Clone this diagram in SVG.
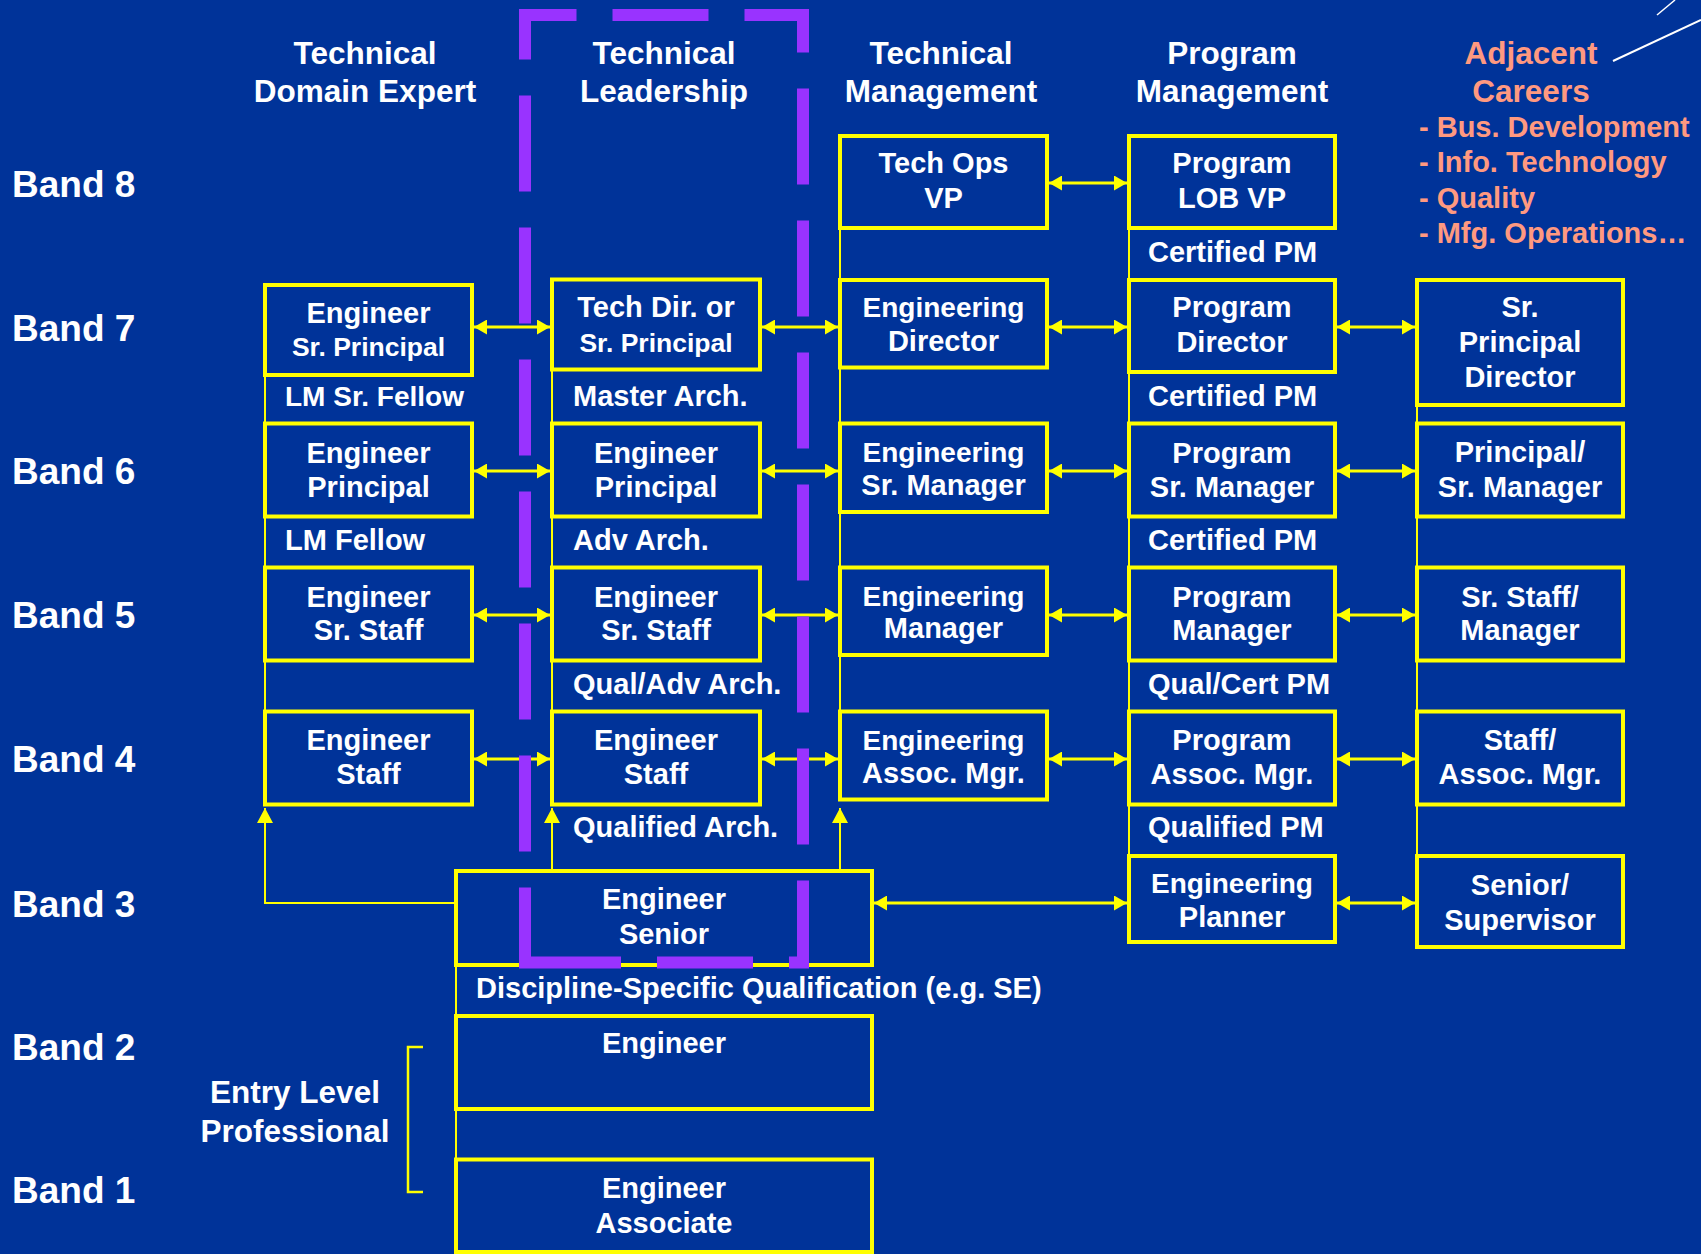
<svg xmlns="http://www.w3.org/2000/svg" width="1701" height="1254" viewBox="0 0 1701 1254">
<style>
  .t { font-family: "Liberation Sans", Arial, sans-serif; font-weight: bold; fill: #FFFFFF; }
  .c { text-anchor: middle; }
  .hdr { font-size: 31.5px; }
  .band { font-size: 37px; }
  .bx { font-size: 29px; }
  .bxs { font-size: 28px; }
  .bxn { font-size: 26.5px; }
  .lbl { font-size: 29px; }
  .adj { fill: #FF9980; }
  .box { fill: #003399; stroke: #FFFF00; stroke-width: 4; }
  .thin { fill: none; stroke: #FFFF00; stroke-width: 2; }
  .dbl { fill: none; stroke: #FFFF00; stroke-width: 3; marker-start: url(#ah); marker-end: url(#ah); }
  .up { fill: none; stroke: #FFFF00; stroke-width: 2; marker-end: url(#ahUp); }
</style>
<defs>
  <marker id="ah" markerUnits="userSpaceOnUse" markerWidth="14" markerHeight="15" refX="13" refY="7.5" orient="auto-start-reverse">
    <path d="M0,0 L13,7.5 L0,15 Z" fill="#FFFF00"/>
  </marker>
  <marker id="ahUp" markerUnits="userSpaceOnUse" markerWidth="16" markerHeight="16" refX="15" refY="8" orient="auto">
    <path d="M0,0 L15,8 L0,16 Z" fill="#FFFF00"/>
  </marker>
</defs>

<!-- background -->
<rect x="0" y="0" width="1701" height="1254" fill="#003399"/>

<!-- decorative strokes, top right -->
<g id="corner-strokes" stroke="#FFFFFF" fill="none">
  <line x1="1613" y1="61" x2="1701" y2="20" stroke-width="2"/>
  <line x1="1657" y1="15" x2="1675" y2="0" stroke-width="1.5"/>
</g>

<!-- column headers -->
<g id="headers" class="t hdr c">
  <text x="365" y="64">Technical</text>
  <text x="365" y="102">Domain Expert</text>
  <text x="664" y="64">Technical</text>
  <text x="664" y="102">Leadership</text>
  <text x="941" y="64">Technical</text>
  <text x="941" y="102">Management</text>
  <text x="1232" y="64">Program</text>
  <text x="1232" y="102">Management</text>
  <text x="1531" y="64" class="adj">Adjacent</text>
  <text x="1531" y="102" class="adj">Careers</text>
</g>
<g id="adjacent-list" class="t lbl adj">
  <text x="1419" y="137">- Bus. Development</text>
  <text x="1419" y="172">- Info. Technology</text>
  <text x="1419" y="208">- Quality</text>
  <text x="1419" y="243">- Mfg. Operations…</text>
</g>

<!-- band labels -->
<g id="bands" class="t band">
  <text x="12" y="197">Band 8</text>
  <text x="12" y="341">Band 7</text>
  <text x="12" y="484">Band 6</text>
  <text x="12" y="628">Band 5</text>
  <text x="12" y="772">Band 4</text>
  <text x="12" y="917">Band 3</text>
  <text x="12" y="1060">Band 2</text>
  <text x="12" y="1203">Band 1</text>
</g>

<g id="entry-level" class="t c" font-size="31.5">
  <text x="295" y="1103">Entry Level</text>
  <text x="295" y="1142">Professional</text>
  <path d="M423,1047 H408 V1192 H423" fill="none" stroke="#FFFF00" stroke-width="2.5"/>
</g>

<!-- qualification labels between bands -->
<g id="qualifications" class="t lbl">
  <text x="285" y="406" font-size="28">LM Sr. Fellow</text>
  <text x="573" y="406">Master Arch.</text>
  <text x="1148" y="262">Certified PM</text>
  <text x="1148" y="406">Certified PM</text>
  <text x="285" y="550">LM Fellow</text>
  <text x="573" y="550">Adv Arch.</text>
  <text x="1148" y="550">Certified PM</text>
  <text x="573" y="694">Qual/Adv Arch.</text>
  <text x="1148" y="694">Qual/Cert PM</text>
  <text x="573" y="837">Qualified Arch.</text>
  <text x="1148" y="837">Qualified PM</text>
  <text x="476" y="998">Discipline-Specific Qualification (e.g. SE)</text>
</g>

<!-- connectors -->
<g id="connectors">
  <path class="thin" d="M265,375 V423.5 M265,516.5 V567.5 M265,660.5 V711.5"/>
  <path class="thin" d="M552,369.5 V423.5 M552,516.5 V567.5 M552,660.5 V711.5"/>
  <path class="thin" d="M840,228 V280 M840,367.5 V423.5 M840,512 V567.5 M840,655 V711.5"/>
  <path class="thin" d="M1129,228 V280 M1129,372 V423.5 M1129,516.5 V567.5 M1129,660.5 V711.5 M1129,804.5 V856"/>
  <path class="thin" d="M1417,405 V423.5 M1417,516.5 V567.5 M1417,660.5 V711.5 M1417,804.5 V856"/>
  <path class="thin" d="M456,965 V1016 M456,1109 V1159.5"/>

  <polyline class="up" points="456,903 265,903 265,808"/>
  <line class="up" x1="552" y1="871" x2="552" y2="808"/>
  <line class="up" x1="840" y1="871" x2="840" y2="808"/>

  <line class="dbl" x1="1049" y1="183" x2="1127" y2="183"/>

  <line class="dbl" x1="474" y1="327" x2="550" y2="327"/>
  <line class="dbl" x1="762" y1="327" x2="838" y2="327"/>
  <line class="dbl" x1="1049" y1="327" x2="1127" y2="327"/>
  <line class="dbl" x1="1337" y1="327" x2="1415" y2="327"/>

  <line class="dbl" x1="474" y1="471" x2="550" y2="471"/>
  <line class="dbl" x1="762" y1="471" x2="838" y2="471"/>
  <line class="dbl" x1="1049" y1="471" x2="1127" y2="471"/>
  <line class="dbl" x1="1337" y1="471" x2="1415" y2="471"/>

  <line class="dbl" x1="474" y1="615" x2="550" y2="615"/>
  <line class="dbl" x1="762" y1="615" x2="838" y2="615"/>
  <line class="dbl" x1="1049" y1="615" x2="1127" y2="615"/>
  <line class="dbl" x1="1337" y1="615" x2="1415" y2="615"/>

  <line class="dbl" x1="474" y1="759" x2="550" y2="759"/>
  <line class="dbl" x1="762" y1="759" x2="838" y2="759"/>
  <line class="dbl" x1="1049" y1="759" x2="1127" y2="759"/>
  <line class="dbl" x1="1337" y1="759" x2="1415" y2="759"/>

  <line class="dbl" x1="874" y1="903" x2="1127" y2="903"/>
  <line class="dbl" x1="1337" y1="903" x2="1415" y2="903"/>
</g>

<!-- Band 8 -->
<g id="tech-ops-vp">
  <rect class="box" x="840" y="136" width="207" height="92"/>
  <text class="t bx c" x="943.5" y="173">Tech Ops</text>
  <text class="t bx c" x="943.5" y="208">VP</text>
</g>
<g id="program-lob-vp">
  <rect class="box" x="1129" y="136" width="206" height="92"/>
  <text class="t bx c" x="1232" y="173">Program</text>
  <text class="t bx c" x="1232" y="208">LOB VP</text>
</g>

<!-- Band 7 -->
<g id="engineer-sr-principal">
  <rect class="box" x="265" y="285" width="207" height="90"/>
  <text class="t bx c" x="368.5" y="323">Engineer</text>
  <text class="t bxn c" x="368.5" y="356">Sr. Principal</text>
</g>
<g id="tech-dir-sr-principal">
  <rect class="box" x="552" y="279.5" width="208" height="90"/>
  <text class="t bx c" x="656" y="317">Tech Dir. or</text>
  <text class="t bxn c" x="656" y="352">Sr. Principal</text>
</g>
<g id="engineering-director">
  <rect class="box" x="840" y="280" width="207" height="87.5"/>
  <text class="t bxs c" x="943.5" y="317">Engineering</text>
  <text class="t bx c" x="943.5" y="351">Director</text>
</g>
<g id="program-director">
  <rect class="box" x="1129" y="280" width="206" height="92"/>
  <text class="t bx c" x="1232" y="317">Program</text>
  <text class="t bx c" x="1232" y="352">Director</text>
</g>
<g id="sr-principal-director">
  <rect class="box" x="1417" y="280" width="206" height="125"/>
  <text class="t bx c" x="1520" y="317">Sr.</text>
  <text class="t bx c" x="1520" y="352">Principal</text>
  <text class="t bx c" x="1520" y="387">Director</text>
</g>

<!-- Band 6 -->
<g id="engineer-principal-tde">
  <rect class="box" x="265" y="423.5" width="207" height="93"/>
  <text class="t bx c" x="368.5" y="463">Engineer</text>
  <text class="t bx c" x="368.5" y="497">Principal</text>
</g>
<g id="engineer-principal-tl">
  <rect class="box" x="552" y="423.5" width="208" height="93"/>
  <text class="t bx c" x="656" y="463">Engineer</text>
  <text class="t bx c" x="656" y="497">Principal</text>
</g>
<g id="engineering-sr-manager">
  <rect class="box" x="840" y="423.5" width="207" height="88.5"/>
  <text class="t bxs c" x="943.5" y="462">Engineering</text>
  <text class="t bx c" x="943.5" y="495">Sr. Manager</text>
</g>
<g id="program-sr-manager">
  <rect class="box" x="1129" y="423.5" width="206" height="93"/>
  <text class="t bx c" x="1232" y="463">Program</text>
  <text class="t bx c" x="1232" y="497">Sr. Manager</text>
</g>
<g id="principal-sr-manager">
  <rect class="box" x="1417" y="423.5" width="206" height="93"/>
  <text class="t bx c" x="1520" y="462">Principal/</text>
  <text class="t bx c" x="1520" y="497">Sr. Manager</text>
</g>

<!-- Band 5 -->
<g id="engineer-sr-staff-tde">
  <rect class="box" x="265" y="567.5" width="207" height="93"/>
  <text class="t bx c" x="368.5" y="607">Engineer</text>
  <text class="t bx c" x="368.5" y="640">Sr. Staff</text>
</g>
<g id="engineer-sr-staff-tl">
  <rect class="box" x="552" y="567.5" width="208" height="93"/>
  <text class="t bx c" x="656" y="607">Engineer</text>
  <text class="t bx c" x="656" y="640">Sr. Staff</text>
</g>
<g id="engineering-manager">
  <rect class="box" x="840" y="567.5" width="207" height="87.5"/>
  <text class="t bxs c" x="943.5" y="606">Engineering</text>
  <text class="t bx c" x="943.5" y="638">Manager</text>
</g>
<g id="program-manager">
  <rect class="box" x="1129" y="567.5" width="206" height="93"/>
  <text class="t bx c" x="1232" y="607">Program</text>
  <text class="t bx c" x="1232" y="640">Manager</text>
</g>
<g id="sr-staff-manager">
  <rect class="box" x="1417" y="567.5" width="206" height="93"/>
  <text class="t bx c" x="1520" y="607">Sr. Staff/</text>
  <text class="t bx c" x="1520" y="640">Manager</text>
</g>

<!-- Band 4 -->
<g id="engineer-staff-tde">
  <rect class="box" x="265" y="711.5" width="207" height="93"/>
  <text class="t bx c" x="368.5" y="750">Engineer</text>
  <text class="t bx c" x="368.5" y="784">Staff</text>
</g>
<g id="engineer-staff-tl">
  <rect class="box" x="552" y="711.5" width="208" height="93"/>
  <text class="t bx c" x="656" y="750">Engineer</text>
  <text class="t bx c" x="656" y="784">Staff</text>
</g>
<g id="engineering-assoc-mgr">
  <rect class="box" x="840" y="711.5" width="207" height="88"/>
  <text class="t bxs c" x="943.5" y="750">Engineering</text>
  <text class="t bx c" x="943.5" y="783">Assoc. Mgr.</text>
</g>
<g id="program-assoc-mgr">
  <rect class="box" x="1129" y="711.5" width="206" height="93"/>
  <text class="t bx c" x="1232" y="750">Program</text>
  <text class="t bx c" x="1232" y="784">Assoc. Mgr.</text>
</g>
<g id="staff-assoc-mgr">
  <rect class="box" x="1417" y="711.5" width="206" height="93"/>
  <text class="t bx c" x="1520" y="750">Staff/</text>
  <text class="t bx c" x="1520" y="784">Assoc. Mgr.</text>
</g>

<!-- Band 3 -->
<g id="engineer-senior">
  <rect class="box" x="456" y="871" width="416" height="94"/>
  <text class="t bx c" x="664" y="909">Engineer</text>
  <text class="t bx c" x="664" y="944">Senior</text>
</g>
<g id="engineering-planner">
  <rect class="box" x="1129" y="856" width="206" height="86"/>
  <text class="t bxs c" x="1232" y="893">Engineering</text>
  <text class="t bx c" x="1232" y="927">Planner</text>
</g>
<g id="senior-supervisor">
  <rect class="box" x="1417" y="856" width="206" height="91"/>
  <text class="t bx c" x="1520" y="895">Senior/</text>
  <text class="t bx c" x="1520" y="930">Supervisor</text>
</g>

<!-- Band 2 -->
<g id="engineer">
  <rect class="box" x="456" y="1016" width="416" height="93"/>
  <text class="t bx c" x="664" y="1053">Engineer</text>
</g>

<!-- Band 1 -->
<g id="engineer-associate">
  <rect class="box" x="456" y="1159.5" width="416" height="92.5"/>
  <text class="t bx c" x="664" y="1198">Engineer</text>
  <text class="t bx c" x="664" y="1233">Associate</text>
</g>

<!-- dashed frame around the technical leadership track -->
<path id="leadership-frame" d="M525,962.5 H803 V15 H525 Z" fill="none" stroke="#9933FF" stroke-width="12" stroke-dasharray="96 36"/>
</svg>
